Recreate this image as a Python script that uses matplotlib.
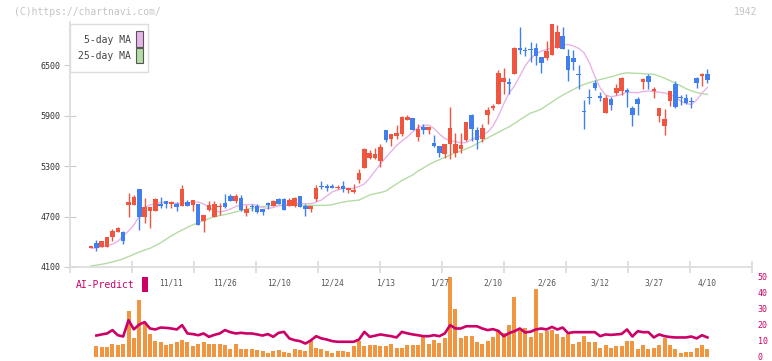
import numpy as np
import matplotlib
matplotlib.use("Agg")
import matplotlib.pyplot as plt
from matplotlib.patches import Rectangle

# daily candles (oldest -> newest)
opens = [
    4335, 4385, 4338, 4338, 4457, 4520, 4516, 4841, 4841, 5024,
    4698, 4769, 4769, 4849, 4885, 4853, 4853, 4825, 4873, 4841,
    4853, 4643, 4777, 4698, 4813, 4861, 4948, 4885, 4920, 4746,
    4829, 4829, 4793, 4865, 4829, 4908, 4908, 4829, 4829, 4944,
    4829, 4793, 4908, 5064, 5064, 5064, 5040, 5064, 5016, 4993,
    5138, 5280, 5399, 5399, 5363, 5728, 5625, 5657, 5680, 5846,
    5870, 5645, 5763, 5728, 5573, 5538, 5443, 5562, 5455, 5502,
    5609, 5906, 5728, 5621, 5906, 5989, 6037, 6298, 6298, 6393,
    6702, 6678, 6690, 6702, 6595, 6583, 6619, 6705, 6845, 6607,
    6583, 6397, 5954, 6120, 6286, 6132, 5930, 6096, 6167, 6191,
    6203, 5989, 6096, 6298, 6369, 6191, 5894, 5775, 6072, 6274,
    6120, 6108, 6072, 6345, 6369, 6393]
highs = [
    4342, 4417, 4412, 4460, 4552, 4575, 4528, 4979, 4956, 5028,
    4924, 4813, 4920, 4928, 4890, 4885, 4877, 5075, 4900, 4896,
    4853, 4718, 4880, 4885, 4860, 4970, 4968, 4968, 4955, 4837,
    4849, 4845, 4793, 4877, 4897, 4916, 4916, 4916, 4932, 4944,
    4853, 4829, 5075, 5122, 5087, 5087, 5075, 5122, 5040, 5087,
    5265, 5518, 5494, 5518, 5558, 5728, 5680, 5787, 5894, 5906,
    5870, 5799, 5799, 5763, 5668, 5538, 5562, 6001, 5692, 5692,
    5823, 5918, 5763, 5799, 6001, 6037, 6441, 6464, 6345, 6714,
    6951, 6714, 6773, 6761, 6595, 6785, 6987, 6975, 6948, 6690,
    6678, 6500, 6084, 6215, 6321, 6179, 6144, 6120, 6274, 6357,
    6227, 6013, 6120, 6345, 6393, 6239, 5989, 5977, 6191, 6310,
    6144, 6155, 6120, 6357, 6405, 6452]
lows = [
    4332, 4294, 4338, 4338, 4410, 4510, 4370, 4694, 4837, 4540,
    4623, 4560, 4760, 4805, 4805, 4800, 4765, 4825, 4825, 4765,
    4599, 4520, 4765, 4698, 4720, 4800, 4885, 4865, 4765, 4710,
    4765, 4745, 4718, 4789, 4829, 4849, 4777, 4829, 4817, 4817,
    4710, 4753, 4884, 5028, 5004, 5040, 5028, 4993, 4981, 4981,
    5099, 5280, 5383, 5380, 5292, 5582, 5542, 5625, 5660, 5846,
    5728, 5597, 5680, 5680, 5526, 5407, 5395, 5383, 5407, 5455,
    5597, 5597, 5502, 5585, 5799, 5965, 6037, 6155, 6155, 6393,
    6631, 6607, 6536, 6500, 6405, 6560, 6619, 6705, 6687, 6314,
    6441, 6219, 5743, 6037, 6203, 6072, 5930, 5965, 6144, 6144,
    6001, 5775, 5906, 6215, 6215, 6108, 5823, 5668, 6013, 5989,
    6025, 6037, 5989, 6227, 6250, 6286]
closes = [
    4340, 4322, 4409, 4457, 4528, 4564, 4410, 4873, 4932, 4698,
    4813, 4813, 4908, 4825, 4853, 4873, 4817, 5028, 4825, 4896,
    4599, 4718, 4837, 4849, 4829, 4813, 4885, 4944, 4777, 4793,
    4813, 4757, 4757, 4841, 4885, 4849, 4777, 4896, 4920, 4817,
    4793, 4829, 5040, 5052, 5040, 5040, 5052, 5028, 5040, 5016,
    5218, 5506, 5455, 5443, 5522, 5609, 5680, 5692, 5882, 5882,
    5728, 5740, 5728, 5763, 5542, 5455, 5562, 5752, 5562, 5550,
    5823, 5740, 5609, 5752, 5965, 6013, 6405, 6345, 6274, 6702,
    6682, 6666, 6678, 6607, 6524, 6666, 6987, 6896, 6687, 6441,
    6536, 6385, 5942, 6108, 6227, 6108, 6108, 6025, 6227, 6345,
    6179, 5906, 6037, 6333, 6298, 6215, 5989, 5858, 6191, 6001,
    6108, 6049, 6060, 6286, 6393, 6321]

# moving averages as drawn on the chart
ma5 = [
    4320, 4328, 4340, 4352, 4373, 4403, 4469, 4528, 4599, 4706,
    4807, 4837, 4855, 4866, 4866, 4861, 4855, 4855, 4861, 4872,
    4872, 4849, 4807, 4766, 4754, 4766, 4789, 4819, 4837, 4840,
    4843, 4831, 4807, 4795, 4807, 4825, 4837, 4849, 4855, 4855,
    4852, 4852, 4872, 4896, 4944, 4991, 5015, 5035, 5035, 5035,
    5057, 5086, 5158, 5241, 5324, 5401, 5472, 5544, 5597, 5645,
    5704, 5757, 5781, 5787, 5746, 5680, 5627, 5603, 5589, 5576,
    5579, 5615, 5639, 5662, 5704, 5775, 5894, 6037, 6167, 6251,
    6369, 6488, 6577, 6631, 6666, 6684, 6708, 6726, 6738, 6744,
    6726, 6698, 6643, 6524, 6363, 6227, 6144, 6122, 6134, 6150,
    6179, 6173, 6171, 6185, 6191, 6185, 6177, 6167, 6150, 6120,
    6072, 6043, 6031, 6084, 6167, 6233]
ma25 = [
    4112, 4122, 4132, 4145, 4161, 4177, 4198, 4224, 4251, 4278,
    4301, 4322, 4354, 4387, 4429, 4470, 4507, 4540, 4573, 4600,
    4627, 4651, 4675, 4697, 4712, 4723, 4738, 4755, 4770, 4785,
    4798, 4811, 4819, 4825, 4831, 4833, 4833, 4833, 4833, 4833,
    4833, 4833, 4833, 4833, 4833, 4842, 4857, 4871, 4882, 4888,
    4895, 4925, 4956, 4971, 4984, 5002, 5045, 5086, 5128, 5160,
    5193, 5240, 5276, 5316, 5348, 5375, 5403, 5431, 5456, 5480,
    5503, 5531, 5565, 5600, 5634, 5667, 5700, 5734, 5765, 5805,
    5848, 5889, 5929, 5950, 5976, 6019, 6060, 6103, 6141, 6176,
    6209, 6243, 6270, 6291, 6310, 6328, 6343, 6360, 6378, 6397,
    6407, 6404, 6401, 6397, 6393, 6390, 6368, 6343, 6315, 6283,
    6253, 6220, 6193, 6173, 6160, 6151]

# lower panel
volume = [
    np.nan, 6.4, 5.8, 5.8, 7.7, 7.1, 7.7, 28.3, 11.3, 35.6,
    20.6, 13.8, 10.0, 8.8, 7.1, 8.1, 8.8, 10.6, 8.8, 6.4,
    7.9, 8.8, 8.1, 7.9, 8.1, 7.5, 4.4, 8.1, 4.4, 4.4,
    5.0, 3.9, 3.5, 2.5, 3.3, 3.9, 2.9, 1.9, 4.4, 3.9,
    3.5, 9.4, 5.4, 4.4, 3.5, 2.3, 3.5, 3.3, 2.9, 6.4,
    9.4, 6.4, 7.5, 6.9, 6.4, 6.4, 7.7, 5.4, 5.4, 7.5,
    7.5, 7.5, 12.3, 8.1, 10.6, 8.5, 11.5, 49.4, 29.4, 11.3,
    12.7, 12.7, 9.2, 7.7, 10.0, 11.9, 15.8, 15.0, 19.6, 36.9,
    17.5, 18.1, 11.9, 42.5, 15.0, 15.8, 16.5, 13.8, 12.5, 13.8,
    8.1, 8.8, 13.1, 8.8, 8.8, 5.6, 7.5, 5.6, 6.3, 6.3,
    10.0, 9.4, 4.4, 6.9, 4.4, 5.6, 7.5, 11.3, 6.9, 5.0,
    2.5, 3.1, 3.1, 5.6, 6.9, 5.0]
ai_predict = [
    np.nan, 13.1, 13.8, 14.4, 16.5, 13.3, 12.5, 22.7, 17.0, 20.0,
    21.5, 17.5, 16.9, 18.1, 17.9, 17.5, 16.9, 19.6, 14.4, 14.0,
    13.3, 14.4, 12.3, 13.5, 14.4, 16.5, 15.2, 14.4, 14.8, 14.4,
    14.4, 13.8, 13.1, 14.0, 12.3, 14.8, 15.4, 11.3, 10.2, 9.6,
    8.1, 10.0, 12.7, 11.3, 10.6, 9.6, 9.2, 9.2, 9.2, 9.2,
    10.6, 15.4, 12.3, 13.0, 13.8, 13.2, 12.7, 11.9, 15.4, 14.5,
    13.8, 13.3, 12.7, 12.7, 13.3, 12.7, 14.4, 19.6, 17.5, 17.5,
    18.9, 18.9, 18.9, 17.5, 16.5, 17.1, 16.0, 12.7, 14.6, 15.8,
    17.5, 15.0, 15.5, 16.9, 17.5, 16.9, 18.5, 16.9, 18.1, 14.6,
    15.2, 15.2, 15.2, 15.2, 15.2, 12.7, 13.8, 13.5, 13.8, 14.1,
    16.9, 12.5, 15.8, 15.2, 15.2, 11.9, 13.8, 12.7, 12.2, 11.9,
    11.9, 11.9, 12.5, 11.3, 13.3, 11.9]

date_labels = ["11/11", "11/26", "12/10", "12/24", "1/13", "1/27",
               "2/10", "2/26", "3/12", "3/27", "4/10"]
price_ticks = [4100, 4700, 5300, 5900, 6500]
ai_ticks = [0, 10, 20, 30, 40, 50]

RED = "#f05540"
BLUE = "#4080ee"
ORANGE = "#f09640"
CRIMSON = "#cc0066"
PINK = "#e8b4e8"
GREEN = "#b4dca4"

plt.rcParams["font.family"] = "DejaVu Sans Mono"

W, H = 772, 361
fig = plt.figure(figsize=(W / 100, H / 100), dpi=100)


def fx(px):
    return px / W


def fy(py):
    return 1 - py / H


ax = fig.add_axes([fx(70), fy(267), fx(752) - fx(70), fy(22) - fy(267)])
ax2 = fig.add_axes([fx(70), fy(356.5), fx(752) - fx(70), fy(273) - fy(356.5)])

idx = np.arange(len(closes))
o = np.array(opens, dtype=float)
c = np.array(closes, dtype=float)
cols = np.where(c >= o, RED, BLUE)

# moving averages under the candles
ax.plot(idx, ma25, color=GREEN, lw=1.0, zorder=1)
ax.plot(idx, ma5, color=PINK, lw=1.0, zorder=1)

# candles
ax.vlines(idx, lows, highs, colors=cols, linewidth=1.0, zorder=2)
body_h = np.maximum(np.abs(c - o), 14)
mid = (o + c) / 2
ax.bar(idx, body_h, bottom=mid - body_h / 2, width=0.85, color=cols,
       linewidth=0, zorder=3)

xlim = (-21 / 5.36, 661 / 5.36)
ax.set_xlim(*xlim)
ax.set_ylim(4100, 7011)
for s in ["top", "right"]:
    ax.spines[s].set_visible(False)
for s in ["left", "bottom"]:
    ax.spines[s].set_color("#dddddd")
    ax.spines[s].set_linewidth(1.3)
ax.set_yticks(price_ticks)
ax.tick_params(axis="y", labelsize=6, labelcolor="#333333", color="#cccccc",
               direction="inout", length=8, pad=3)
ax.set_xticks(np.linspace(xlim[0], xlim[1], 12))
ax.set_xticklabels([])
ax.tick_params(axis="x", color="#dddddd", direction="inout", length=8, width=1.3)

# lower panel
ax2.bar(idx, volume, width=0.75, color=ORANGE, linewidth=0, zorder=1)
ax2.plot(idx, ai_predict, color=CRIMSON, lw=1.9, zorder=2)
ax2.set_xlim(*xlim)
ax2.set_ylim(0, (356.5 - 273) / 1.6)
for s in ax2.spines.values():
    s.set_visible(False)
ax2.set_xticks([])
ax2.yaxis.tick_right()
ax2.set_yticks(ai_ticks)
ax2.tick_params(axis="y", labelsize=6, labelcolor=CRIMSON, length=0, pad=4)
for lab in ax2.get_yticklabels():
    lab.set_verticalalignment("center_baseline")
for k, lab in enumerate(date_labels):
    ax2.text(15 + 10 * k, (356.5 - 283) / 1.6, lab, ha="center", va="center",
             fontsize=5.7, color="#555555", zorder=3)

# legend box
fig.patches.append(Rectangle((fx(70), fy(72)), fx(148) - fx(70), fy(24) - fy(72),
                             transform=fig.transFigure, facecolor="white",
                             edgecolor="#dddddd", lw=1.0, zorder=5))
fig.text(fx(131), fy(40), "5-day MA", ha="right", va="center", fontsize=7,
         color="#444444", zorder=6)
fig.text(fx(131), fy(56), "25-day MA", ha="right", va="center", fontsize=7,
         color="#444444", zorder=6)
fig.patches.append(Rectangle((fx(136), fy(46.5)), fx(142.5) - fx(136),
                             fy(31.5) - fy(46.5), transform=fig.transFigure,
                             facecolor=PINK, edgecolor="#555555", lw=0.8, zorder=6))
fig.patches.append(Rectangle((fx(136), fy(63)), fx(142.5) - fx(136),
                             fy(48) - fy(63), transform=fig.transFigure,
                             facecolor=GREEN, edgecolor="#555555", lw=0.8, zorder=6))

# AI-Predict label
fig.text(fx(135), fy(285), "AI-Predict", ha="right", va="center", fontsize=7,
         color=CRIMSON)
fig.patches.append(Rectangle((fx(142), fy(292)), fx(148) - fx(142),
                             fy(277) - fy(292), transform=fig.transFigure,
                             facecolor=CRIMSON, edgecolor="none"))

# header
fig.text(fx(14), fy(12), "(C)https://chartnavi.com/", ha="left", va="center",
         fontsize=7, color="#c4c4c4")
fig.text(fx(757), fy(12), "1942", ha="right", va="center", fontsize=7,
         color="#c4c4c4")

fig.savefig("out.png", dpi=100)
